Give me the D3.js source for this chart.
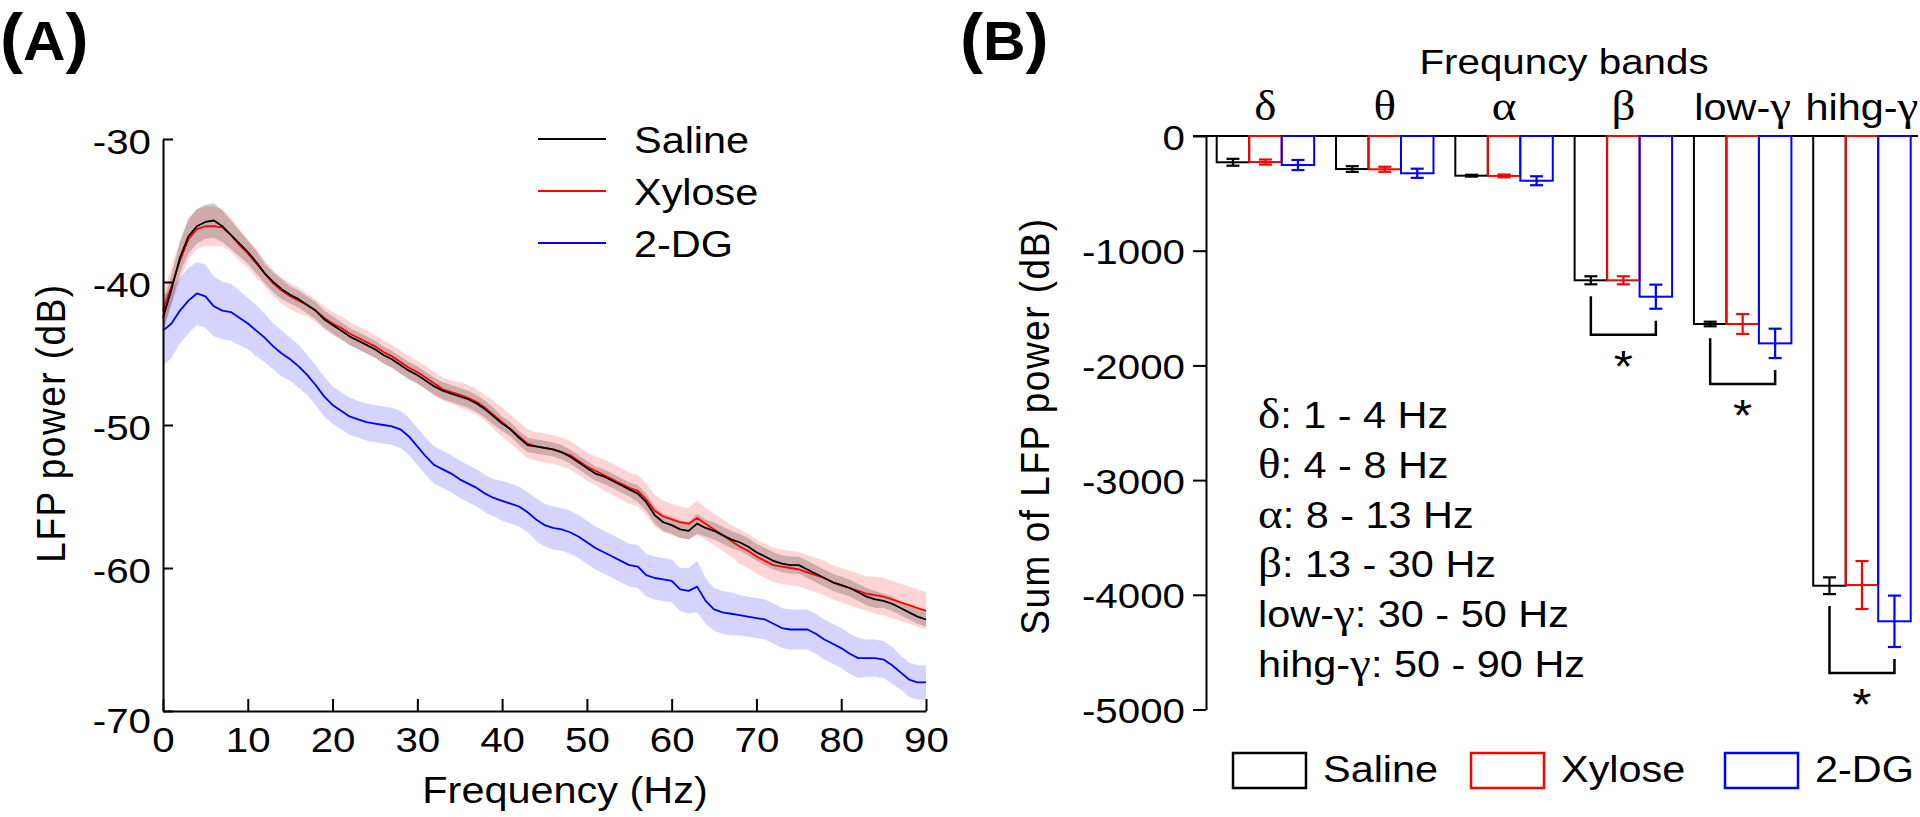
<!DOCTYPE html>
<html><head><meta charset="utf-8">
<script src="https://cdn.jsdelivr.net/npm/d3@7"></script>
<style>
html,body{margin:0;padding:0;background:#fff;}
svg{display:block;}
text{font-family:"Liberation Sans",Arial,Helvetica,sans-serif;fill:#000;}
</style></head><body>
<svg id="chart" width="1920" height="817"></svg>
<script>
// ---------------- DATA ----------------
// Panel A: LFP power spectra (dB), sampled every 1 Hz from 0 to 90 Hz
const freqs = d3.range(0, 91, 1);
const salineMean = [
-42.5,-40.5,-38.3,-36.8,-36.1,-35.8,-35.7,-36.1,-36.7,-37.3,
-37.9,-38.6,-39.4,-40.0,-40.5,-40.9,-41.2,-41.6,-42.0,-42.6,
-43.0,-43.4,-43.8,-44.1,-44.4,-44.7,-45.1,-45.4,-45.8,-46.2,
-46.5,-46.9,-47.3,-47.6,-47.8,-48.0,-48.2,-48.5,-48.9,-49.4,
-49.9,-50.3,-50.9,-51.4,-51.5,-51.6,-51.7,-51.9,-52.2,-52.6,
-53.0,-53.4,-53.6,-53.9,-54.2,-54.5,-54.8,-55.4,-56.3,-56.8,
-57.0,-57.3,-57.4,-56.9,-57.2,-57.4,-57.7,-58.0,-58.2,-58.5,
-58.9,-59.2,-59.5,-59.7,-59.8,-59.8,-60.1,-60.4,-60.7,-61.0,
-61.2,-61.4,-61.7,-62.0,-62.2,-62.3,-62.5,-62.8,-63.1,-63.4,
-63.6];
const xyloseMean = [
-42.0,-40.3,-38.5,-37.0,-36.3,-36.1,-36.1,-36.2,-36.7,-37.4,
-38.0,-38.7,-39.4,-40.1,-40.6,-41.0,-41.3,-41.6,-42.0,-42.5,
-42.9,-43.2,-43.6,-43.9,-44.2,-44.5,-44.9,-45.2,-45.6,-46.0,
-46.3,-46.7,-47.1,-47.5,-47.7,-47.9,-48.1,-48.4,-48.8,-49.3,
-49.8,-50.3,-50.8,-51.3,-51.5,-51.6,-51.7,-51.9,-52.1,-52.5,
-52.9,-53.2,-53.5,-53.8,-54.1,-54.4,-54.6,-55.2,-56.0,-56.4,
-56.6,-56.8,-56.9,-56.5,-56.9,-57.3,-57.7,-58.1,-58.5,-58.8,
-59.2,-59.5,-59.8,-59.9,-60.0,-60.1,-60.3,-60.5,-60.7,-61.0,
-61.2,-61.4,-61.6,-61.8,-61.9,-62.0,-62.2,-62.4,-62.6,-62.8,
-63.0];
const dgMean = [
-43.4,-42.9,-42.0,-41.3,-40.8,-41.0,-41.7,-42.0,-42.1,-42.5,
-42.9,-43.4,-43.9,-44.5,-45.0,-45.4,-45.9,-46.5,-47.2,-48.0,
-48.6,-49.0,-49.4,-49.6,-49.8,-49.9,-50.0,-50.1,-50.3,-50.8,
-51.5,-52.2,-52.8,-53.1,-53.4,-53.8,-54.1,-54.4,-54.8,-55.1,
-55.3,-55.5,-55.7,-56.1,-56.6,-57.0,-57.2,-57.3,-57.5,-57.8,
-58.2,-58.6,-58.9,-59.2,-59.5,-59.8,-59.9,-60.5,-60.7,-60.8,
-60.9,-61.5,-61.6,-61.3,-62.3,-62.9,-63.1,-63.2,-63.3,-63.4,
-63.5,-63.6,-63.9,-64.2,-64.3,-64.3,-64.3,-64.6,-65.0,-65.3,
-65.6,-66.0,-66.3,-66.3,-66.3,-66.4,-66.8,-67.3,-67.8,-68.0,
-68.0];
const salineSem = [
1.0,1.0,1.1,1.2,1.2,1.2,1.2,1.1,1.0,0.9,
0.8,0.8,0.7,0.7,0.7,0.6,0.6,0.6,0.6,0.6,
0.6,0.6,0.6,0.6,0.6,0.6,0.6,0.6,0.6,0.6,
0.6,0.6,0.6,0.6,0.6,0.6,0.6,0.6,0.6,0.6,
0.5,0.5,0.5,0.5,0.5,0.5,0.5,0.5,0.5,0.5,
0.5,0.5,0.5,0.5,0.5,0.5,0.6,0.6,0.6,0.6,
0.6,0.6,0.6,0.7,0.6,0.6,0.6,0.6,0.6,0.6,
0.6,0.6,0.6,0.6,0.6,0.6,0.6,0.6,0.6,0.6,
0.6,0.6,0.6,0.6,0.6,0.5,0.5,0.5,0.5,0.5,
0.5];
const xyloseSem = [
1.3,1.3,1.4,1.4,1.4,1.4,1.4,1.3,1.2,1.1,
1.0,1.0,0.9,0.9,0.9,0.9,0.9,0.8,0.8,0.8,
0.8,0.8,0.8,0.8,0.8,0.8,0.8,0.8,0.8,0.8,
0.8,0.8,0.8,0.8,0.8,0.9,0.9,0.9,0.9,1.0,
1.0,1.0,1.0,1.0,1.0,1.0,1.0,1.0,1.0,1.0,
1.0,1.0,1.1,1.1,1.1,1.1,1.1,1.1,1.1,1.1,
1.1,1.1,1.1,1.2,1.1,1.1,1.1,1.1,1.2,1.2,
1.2,1.2,1.2,1.2,1.2,1.2,1.2,1.2,1.2,1.2,
1.2,1.2,1.2,1.2,1.3,1.3,1.3,1.3,1.3,1.3,
1.3];
const dgSem = [
2.5,2.4,2.3,2.3,2.2,2.2,2.1,2.0,2.0,1.9,
1.8,1.8,1.7,1.6,1.6,1.5,1.5,1.4,1.4,1.4,
1.3,1.3,1.3,1.3,1.3,1.3,1.3,1.3,1.3,1.3,
1.3,1.3,1.3,1.3,1.3,1.3,1.3,1.3,1.3,1.3,
1.4,1.4,1.4,1.4,1.5,1.5,1.5,1.5,1.5,1.5,
1.5,1.5,1.5,1.5,1.5,1.5,1.5,1.5,1.5,1.5,
1.5,1.5,1.6,1.8,1.6,1.5,1.5,1.5,1.4,1.4,
1.4,1.4,1.4,1.4,1.4,1.4,1.4,1.4,1.4,1.4,
1.4,1.4,1.4,1.3,1.3,1.3,1.3,1.2,1.2,1.2,
1.2];
const seriesNames = ["Saline", "Xylose", "2-DG"];
const seriesColors = ["#000000", "#ff0000", "#0000ff"];
const tickA_y = [-30, -40, -50, -60, -70];
const tickA_x = [0, 10, 20, 30, 40, 50, 60, 70, 80, 90];

// Panel B: sum of LFP power per frequency band (dB)
const bands = ["delta", "theta", "alpha", "beta", "lowgamma", "highgamma"];
const bandPrefix = ["", "", "", "", "low-", "hihg-"];
const bandGreek = ["δ", "θ", "α", "β", "γ", "γ"];
const bandRanges = ["1 - 4 Hz", "4 - 8 Hz", "8 - 13 Hz", "13 - 30 Hz", "30 - 50 Hz", "50 - 90 Hz"];
const salineBand = [-229, -288, -346, -1258, -1639, -3921];
const xyloseBand = [-227, -290, -348, -1258, -1639, -3915];
const dgBand = [-253, -325, -390, -1401, -1808, -4231];
const salineBandSem = [30, 25, 8, 35, 20, 73];
const xyloseBandSem = [22, 22, 12, 35, 87, 209];
const dgBandSem = [44, 40, 39, 105, 128, 224];
const sigBands = ["beta", "lowgamma", "highgamma"];
const tickB_y = [0, -1000, -2000, -3000, -4000, -5000];

// ---------------- DRAW ----------------
const SX = 1.12; // horizontal stretch of the original figure's text
const svg = d3.select("#chart");
const FONT = '"Liberation Sans", Arial, Helvetica, sans-serif';
const SERIF = '"Liberation Serif", "Times New Roman", serif';

function stext(parent, x, y, str, size, anchor) {
  return parent.append("text")
    .attr("transform", `translate(${x},${y}) scale(${SX},1)`)
    .attr("font-size", size)
    .attr("text-anchor", anchor || "start")
    .text(str);
}

// ===== Panel A =====
const xA = d3.scaleLinear().domain([0, 90]).range([163, 926]);
const yA = d3.scaleLinear().domain([-30, -70]).range([139, 711]);

const gA = svg.append("g");
const seriesA = [
  {mean: salineMean, sem: salineSem, color: seriesColors[0], fill: "rgba(0,0,0,0.19)"},
  {mean: xyloseMean, sem: xyloseSem, color: seriesColors[1], fill: "rgba(255,0,0,0.17)"},
  {mean: dgMean, sem: dgSem, color: seriesColors[2], fill: "rgba(0,0,255,0.17)"}
].map(s => ({...s, pts: freqs.map((f, i) => ({f, v: s.mean[i], s: s.sem[i]}))}));

const area = d3.area().x(d => xA(d.f)).y0(d => yA(d.v - d.s)).y1(d => yA(d.v + d.s));
const line = d3.line().x(d => xA(d.f)).y(d => yA(d.v));

// bands: 2-DG, Xylose, Saline
[2, 1, 0].forEach(i => {
  gA.append("path").datum(seriesA[i].pts).attr("d", area).attr("fill", seriesA[i].fill).attr("stroke", "none");
});
[2, 1, 0].forEach(i => {
  gA.append("path").datum(seriesA[i].pts).attr("d", line).attr("fill", "none")
    .attr("stroke", seriesA[i].color).attr("stroke-width", 1.8).attr("stroke-linejoin", "round");
});

// axes A
const gya = gA.append("g").attr("transform", `translate(${xA(0)},0)`)
  .call(d3.axisLeft(yA).tickValues(tickA_y).tickSizeInner(-10).tickSizeOuter(0).tickFormat(d => String(d)));
gya.attr("font-family", FONT).attr("font-size", 36);
gya.select(".domain").attr("stroke-width", 2);
gya.selectAll(".tick line").attr("stroke-width", 2);
gya.selectAll(".tick text").attr("x", null).attr("dy", null).attr("fill", "#000")
  .attr("text-anchor", "end")
  .attr("transform", d => `translate(-12,${d === -70 ? 21 : 14}) scale(${SX},1)`);

const gxa = gA.append("g").attr("transform", `translate(0,${yA(-70)})`)
  .call(d3.axisBottom(xA).tickValues(tickA_x).tickSizeInner(-12).tickSizeOuter(0));
gxa.attr("font-family", FONT).attr("font-size", 36);
gxa.select(".domain").attr("stroke-width", 2);
gxa.selectAll(".tick line").attr("stroke-width", 2);
gxa.selectAll(".tick text").attr("y", null).attr("dy", null).attr("fill", "#000")
  .attr("transform", `translate(0,41) scale(${SX},1)`);

stext(gA, 565, 803, "Frequency (Hz)", 37, "middle");
gA.append("text").attr("transform", `translate(65,423) scale(${SX},1) rotate(-90)`)
  .attr("font-size", 37).attr("text-anchor", "middle").attr("letter-spacing", 1.5)
  .text("LFP power (dB)");

// legend A
seriesNames.forEach((n, i) => {
  const y = 139 + i * 52;
  gA.append("line").attr("x1", 538).attr("x2", 606).attr("y1", y).attr("y2", y)
    .attr("stroke", seriesColors[i]).attr("stroke-width", 2);
  stext(gA, 634, y + 14, n, 37);
});

// panel label A
const labA = svg.append("text").attr("transform", `translate(0,60) scale(1.05,1)`).attr("font-weight", "bold");
labA.append("tspan").attr("font-size", 66).text("(");
labA.append("tspan").attr("font-size", 56).attr("dy", 0).text("A");
labA.append("tspan").attr("font-size", 66).text(")");

// ===== Panel B =====
const yB = d3.scaleLinear().domain([0, -5000]).range([136, 709.5]);
const x0 = d3.scaleBand().domain(bands).range([1216.7, 1910.7]).paddingInner(0.183).paddingOuter(0);
const x1 = d3.scaleBand().domain(seriesNames).range([0, x0.bandwidth()]).padding(0);

const gB = svg.append("g");
const meansB = [salineBand, xyloseBand, dgBand];
const semsB = [salineBandSem, xyloseBandSem, dgBandSem];
const axisXB = 1206;

// top zero line
gB.append("line").attr("x1", axisXB - 13).attr("x2", 1918).attr("y1", yB(0)).attr("y2", yB(0))
  .attr("stroke", "#000").attr("stroke-width", 2);

bands.forEach((b, bi) => {
  seriesNames.forEach((s, si) => {
    const v = meansB[si][bi], e = semsB[si][bi];
    const bx = x0(b) + x1(s), bw = x1.bandwidth(), cx = bx + bw / 2;
    gB.append("rect").attr("x", bx).attr("y", yB(0)).attr("width", bw).attr("height", yB(v) - yB(0))
      .attr("fill", "none").attr("stroke", seriesColors[si]).attr("stroke-width", 2);
    const eg = gB.append("g").attr("stroke", seriesColors[si]).attr("stroke-width", 2.2);
    eg.append("line").attr("x1", cx).attr("x2", cx).attr("y1", yB(v + e)).attr("y2", yB(v - e));
    eg.append("line").attr("x1", cx - 6.5).attr("x2", cx + 6.5).attr("y1", yB(v + e)).attr("y2", yB(v + e));
    eg.append("line").attr("x1", cx - 6.5).attr("x2", cx + 6.5).attr("y1", yB(v - e)).attr("y2", yB(v - e));
  });
  // band label
  const t = gB.append("text").attr("transform", `translate(${x0(b) + x0.bandwidth() / 2},120) scale(${SX},1)`)
    .attr("text-anchor", "middle").attr("font-size", 37);
  if (bandPrefix[bi]) t.append("tspan").text(bandPrefix[bi]);
  t.append("tspan").attr("font-family", SERIF).attr("font-size", 42).text(bandGreek[bi]);
});

// significance brackets
sigBands.forEach(b => {
  const bi = bands.indexOf(b);
  const lx = x0(b) + x1(seriesNames[0]) + x1.bandwidth() / 2;
  const rx = x0(b) + x1(seriesNames[2]) + x1.bandwidth() / 2;
  const lt = yB(salineBand[bi] - salineBandSem[bi]) + 12;
  const rt = yB(dgBand[bi] - dgBandSem[bi]) + 12;
  const bot = Math.max(lt, rt) + 14;
  gB.append("path").attr("d", `M${lx},${lt}V${bot}H${rx}V${rt}`)
    .attr("fill", "none").attr("stroke", "#000").attr("stroke-width", 2.5);
  stext(gB, (lx + rx) / 2, bot + 47, "*", 44, "middle");
});

// axis B
const gyb = gB.append("g").attr("transform", `translate(${axisXB},0)`)
  .call(d3.axisLeft(yB).tickValues(tickB_y).tickSizeInner(13).tickSizeOuter(0).tickFormat(d => String(d)));
gyb.attr("font-family", FONT).attr("font-size", 36);
gyb.select(".domain").attr("stroke-width", 2);
gyb.selectAll(".tick line").attr("stroke-width", 2);
gyb.selectAll(".tick text").attr("x", null).attr("dy", null).attr("fill", "#000")
  .attr("text-anchor", "end")
  .attr("transform", `translate(-21,13) scale(${SX},1)`);

gB.append("text").attr("transform", `translate(1049,426) scale(${SX},1) rotate(-90)`)
  .attr("font-size", 37).attr("text-anchor", "middle").attr("letter-spacing", 1.5)
  .text("Sum of LFP power (dB)");
stext(gB, 1564, 74, "Frequncy bands", 36, "middle");

// band definitions text block
bands.forEach((b, bi) => {
  const t = gB.append("text").attr("transform", `translate(1258,${428 + bi * 49.8}) scale(${SX},1)`)
    .attr("font-size", 37);
  if (bandPrefix[bi]) t.append("tspan").text(bandPrefix[bi]);
  t.append("tspan").attr("font-family", SERIF).attr("font-size", 42).text(bandGreek[bi]);
  t.append("tspan").text(": " + bandRanges[bi]);
});

// legend B
const legBX = [1233, 1471, 1725];
seriesNames.forEach((n, i) => {
  gB.append("rect").attr("x", legBX[i]).attr("y", 753).attr("width", 73).attr("height", 35)
    .attr("fill", "none").attr("stroke", seriesColors[i]).attr("stroke-width", 2.5);
  stext(gB, legBX[i] + 90, 782, n, 37);
});

// panel label B
const labB = svg.append("text").attr("transform", `translate(960,60) scale(1.05,1)`).attr("font-weight", "bold");
labB.append("tspan").attr("font-size", 66).text("(");
labB.append("tspan").attr("font-size", 56).text("B");
labB.append("tspan").attr("font-size", 66).text(")");
</script>
</body></html>
